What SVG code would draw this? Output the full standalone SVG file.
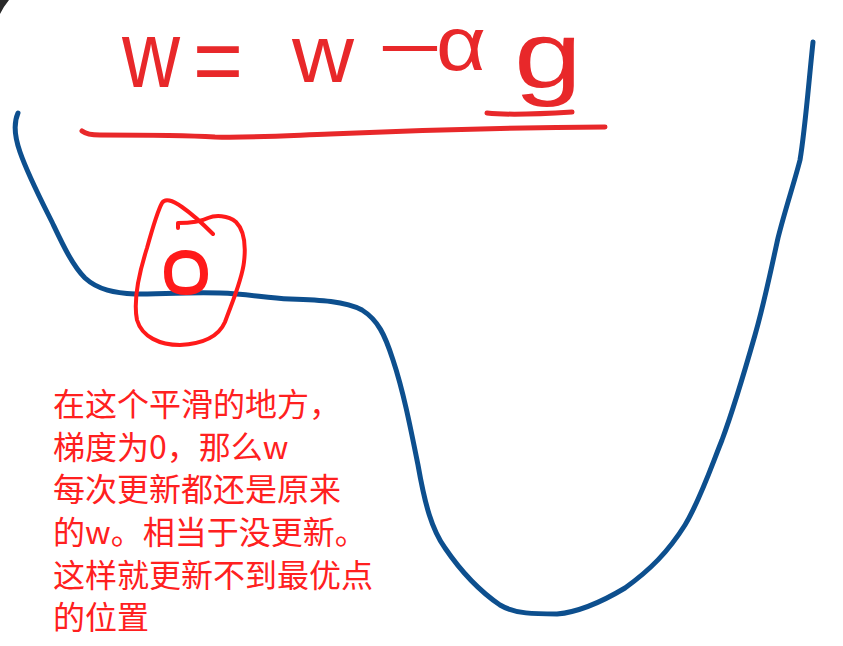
<svg xmlns="http://www.w3.org/2000/svg" width="843" height="646" viewBox="0 0 843 646">
<style>
.hand{fill:none;stroke:#e8282a;stroke-linecap:round;stroke-linejoin:round}
.fx{fill:#e8282a;font-family:"Liberation Sans",Arial,sans-serif}
.note{fill:#ff2020;font-family:"Noto Sans CJK SC","Noto Sans",sans-serif;font-size:32px}
</style>
<rect width="843" height="646" fill="#ffffff"/>
<path d="M0,0 L9,0 Q4,6 0,14 Z" fill="#2a2a2a"/>
<g id="curve">
<path d="M18,113 C14,122 14,135 20,152 C28,175 40,198 52,222 C62,243 72,265 85,278 C98,290 115,293 135,294 C160,294 190,292 220,293 C250,294 265,298 290,299 C320,300 345,301 362,310 C378,320 385,335 393,360 C403,390 410,425 418,465 C425,505 432,530 445,548 C460,570 478,590 500,605 C515,614 535,614 557,614 C580,612 605,600 625,588 C650,570 668,552 685,525 C700,500 710,470 722,440 C735,405 745,370 755,335 C765,300 772,265 778,238 C785,210 795,180 800,160 C805,130 808,90 813,42" fill="none" stroke="#0d4f8e" stroke-width="5" stroke-linecap="round" stroke-linejoin="round"/>
</g>
<g id="formula">
<text class="fx" x="122" y="87" font-size="95" textLength="58" lengthAdjust="spacingAndGlyphs">w</text>
<text class="fx" x="193" y="93" font-size="95" textLength="50" lengthAdjust="spacingAndGlyphs">=</text>
<text class="fx" x="292" y="82" font-size="81" textLength="62" lengthAdjust="spacingAndGlyphs">w</text>
<text class="fx" x="373" y="66" font-size="65" textLength="74" lengthAdjust="spacingAndGlyphs">-</text>
<text class="fx" x="436" y="70" font-size="76" textLength="50" lengthAdjust="spacingAndGlyphs">α</text>
<text class="fx" x="514" y="87" font-size="95" textLength="68" lengthAdjust="spacingAndGlyphs">g</text>
<path class="hand" stroke-width="5" d="M487,113 C505,115 540,114 572,112"/>
<path class="hand" stroke-width="5" d="M82,131 C86,134 90,135 100,135 C140,135 180,135 215,137 C250,138 280,136 330,134 C400,131 480,128 605,127"/>
</g>
<g id="ball">
<path d="M186,254 C199,254 204,262 204,274 C204,286 198,291 186,291 C173,291 168,286 168,272 C168,260 175,254 186,254 Z" fill="none" stroke="#ff1a1a" stroke-width="8"/>
</g>
<g id="lasso">
<path class="hand" style="stroke:#ff1a1a" stroke-width="4" d="M178,228 V223 C190,223 200,222 208,218 C215,215 228,215 236,222 C244,230 246,245 244,262 C242,280 233,300 225,322 C218,338 200,344 180,345 C160,345 142,337 137,320 C133,300 140,270 147,248 C152,230 157,212 162,203 C165,198 172,200 182,207 C192,214 203,224 213,234"/>
</g>
<g id="note">
<text class="note" x="53" y="416">在这个平滑的地方，</text>
<text class="note" x="53" y="459">梯度为0，那么w</text>
<text class="note" x="53" y="501">每次更新都还是原来</text>
<text class="note" x="53" y="544">的w。相当于没更新。</text>
<text class="note" x="53" y="587">这样就更新不到最优点</text>
<text class="note" x="53" y="629">的位置</text>
</g>
</svg>
